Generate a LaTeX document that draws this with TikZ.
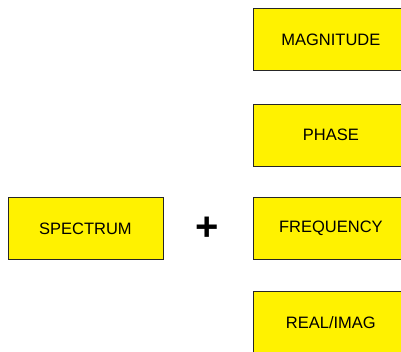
\documentclass[tikz,border=0pt]{standalone}
\usepackage{fontspec}
\setmainfont{Liberation Sans}
\begin{document}
\begin{tikzpicture}[x=1pt,y=-1pt,
  box/.style={draw=black!85, line width=0.8pt, fill=yellow, minimum width=155pt, minimum height=62pt, inner sep=0pt, font=\fontsize{16.5}{18}\selectfont, anchor=north west},
  plus/.style={font=\bfseries\fontsize{40}{42}\selectfont, inner sep=0pt}]
\useasboundingbox (0,0) rectangle (401,351);
\begin{scope}
\clip (0,0) rectangle (401,351);
\node[box] (spectrum) at (7.5,197) {SPECTRUM};
\node[box] (magnitude) at (253,8) {MAGNITUDE};
\node[box] (phase) at (253,103.5) {PHASE};
\node[box] (frequency) at (253,197) {FREQUENCY};
\node[box] (realimag) at (253,291) {REAL/IMAG};
\node[plus] (plussign) at (207,229) {+};
\end{scope}
\end{tikzpicture}
\end{document}
